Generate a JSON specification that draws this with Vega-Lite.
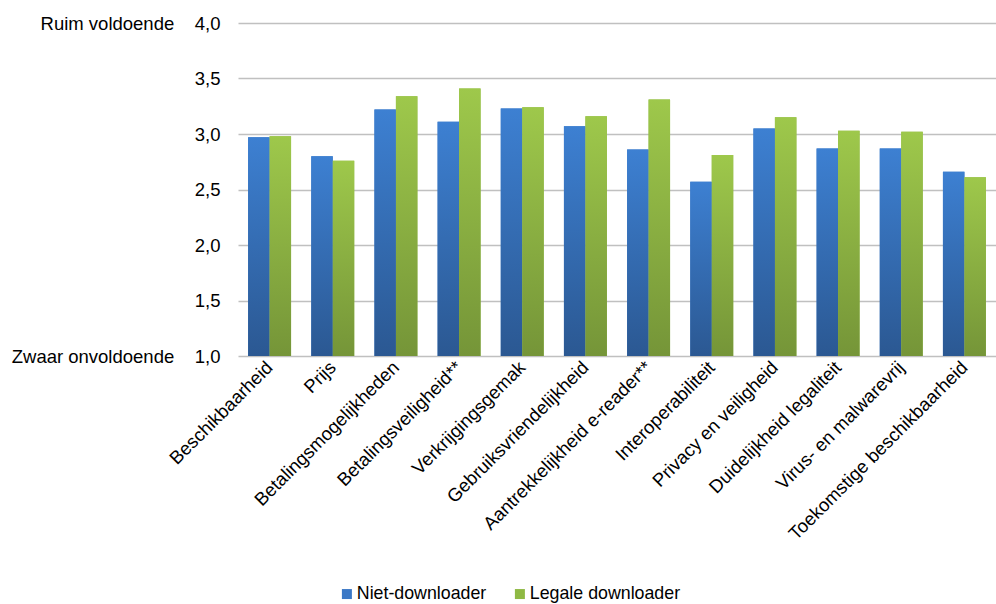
{
  "$schema": "https://vega.github.io/schema/vega-lite/v6.json",
  "width": 758,
  "height": 333,
  "autosize": {"type": "none"},
  "padding": {"left": 238, "top": 23, "right": 0, "bottom": 248},
  "background": "white",
  "config": {
    "font": "Liberation Sans",
    "view": {"stroke": null}
  },
  "data": {
    "values": [
      {"aspect": "Beschikbaarheid", "groep": "Niet-downloader", "score": 2.97},
      {"aspect": "Beschikbaarheid", "groep": "Legale downloader", "score": 2.98},
      {"aspect": "Prijs", "groep": "Niet-downloader", "score": 2.80},
      {"aspect": "Prijs", "groep": "Legale downloader", "score": 2.76},
      {"aspect": "Betalingsmogelijkheden", "groep": "Niet-downloader", "score": 3.22},
      {"aspect": "Betalingsmogelijkheden", "groep": "Legale downloader", "score": 3.34},
      {"aspect": "Betalingsveiligheid**", "groep": "Niet-downloader", "score": 3.11},
      {"aspect": "Betalingsveiligheid**", "groep": "Legale downloader", "score": 3.41},
      {"aspect": "Verkrijgingsgemak", "groep": "Niet-downloader", "score": 3.23},
      {"aspect": "Verkrijgingsgemak", "groep": "Legale downloader", "score": 3.24},
      {"aspect": "Gebruiksvriendelijkheid", "groep": "Niet-downloader", "score": 3.07},
      {"aspect": "Gebruiksvriendelijkheid", "groep": "Legale downloader", "score": 3.16},
      {"aspect": "Aantrekkelijkheid e-reader**", "groep": "Niet-downloader", "score": 2.86},
      {"aspect": "Aantrekkelijkheid e-reader**", "groep": "Legale downloader", "score": 3.31},
      {"aspect": "Interoperabiliteit", "groep": "Niet-downloader", "score": 2.57},
      {"aspect": "Interoperabiliteit", "groep": "Legale downloader", "score": 2.81},
      {"aspect": "Privacy en veiligheid", "groep": "Niet-downloader", "score": 3.05},
      {"aspect": "Privacy en veiligheid", "groep": "Legale downloader", "score": 3.15},
      {"aspect": "Duidelijkheid legaliteit", "groep": "Niet-downloader", "score": 2.87},
      {"aspect": "Duidelijkheid legaliteit", "groep": "Legale downloader", "score": 3.03},
      {"aspect": "Virus- en malwarevrij", "groep": "Niet-downloader", "score": 2.87},
      {"aspect": "Virus- en malwarevrij", "groep": "Legale downloader", "score": 3.02},
      {"aspect": "Toekomstige beschikbaarheid", "groep": "Niet-downloader", "score": 2.66},
      {"aspect": "Toekomstige beschikbaarheid", "groep": "Legale downloader", "score": 2.61}
    ]
  },
  "encoding": {
    "x": {
      "field": "aspect",
      "type": "nominal",
      "sort": null,
      "scale": {"paddingInner": 0.32, "paddingOuter": 0.16},
      "axis": {
        "title": null,
        "labelAngle": -45,
        "labelAlign": "right",
        "labelBaseline": "middle",
        "labelFontSize": 18.5,
        "labelColor": "#000000",
        "labelPadding": 8,
        "ticks": false,
        "domain": false,
        "labelLimit": 0
      }
    },
    "xOffset": {
      "field": "groep",
      "type": "nominal",
      "scale": {"domain": ["Niet-downloader", "Legale downloader"], "paddingInner": 0}
    },
    "y": {
      "field": "score",
      "type": "quantitative",
      "scale": {"domain": [1, 4], "zero": false, "nice": false},
      "axis": {
        "title": null,
        "values": [1, 1.5, 2, 2.5, 3, 3.5, 4],
        "labelExpr": "datum.value == 4 ? 'Ruim voldoende\u00a0\u00a0\u00a0\u00a04,0' : datum.value == 1 ? 'Zwaar onvoldoende\u00a0\u00a0\u00a0\u00a01,0' : replace(format(datum.value, '.1f'), '.', ',')",
        "labelFontSize": 18.5,
        "labelColor": "#000000",
        "labelPadding": 18,
        "labelLimit": 0,
        "ticks": false,
        "domain": false,
        "grid": true,
        "gridColor": "#c0c0c0",
        "gridWidth": 1.5
      }
    }
  },
  "layer": [
    {
      "mark": {"type": "bar"},
      "encoding": {
        "y2": {"datum": 1},
        "color": {
          "field": "groep",
          "type": "nominal",
          "scale": {"domain": ["Niet-downloader", "Legale downloader"], "range": ["#3a78c6", "#8fb944"]},
          "legend": {
            "title": null,
            "orient": "none",
            "direction": "horizontal",
            "legendX": 100,
            "legendY": 562,
            "symbolType": "square",
            "symbolSize": 100,
            "symbolStrokeWidth": 0,
            "labelFontSize": 17.8,
            "labelColor": "#000000",
            "labelOffset": 1,
            "columnPadding": 24,
            "labelLimit": 0
          }
        }
      }
    },
    {
      "transform": [{"filter": "datum.groep == 'Niet-downloader'"}],
      "mark": {
        "type": "bar",
        "fill": {
          "gradient": "linear", "x1": 0, "y1": 0, "x2": 0, "y2": 1,
          "stops": [{"offset": 0, "color": "#3d80d2"}, {"offset": 1, "color": "#2b5892"}]
        }
      },
      "encoding": {"y2": {"datum": 1}}
    },
    {
      "transform": [{"filter": "datum.groep == 'Legale downloader'"}],
      "mark": {
        "type": "bar",
        "fill": {
          "gradient": "linear", "x1": 0, "y1": 0, "x2": 0, "y2": 1,
          "stops": [{"offset": 0, "color": "#9ec84b"}, {"offset": 1, "color": "#759538"}]
        }
      },
      "encoding": {"y2": {"datum": 1}}
    }
  ]
}
